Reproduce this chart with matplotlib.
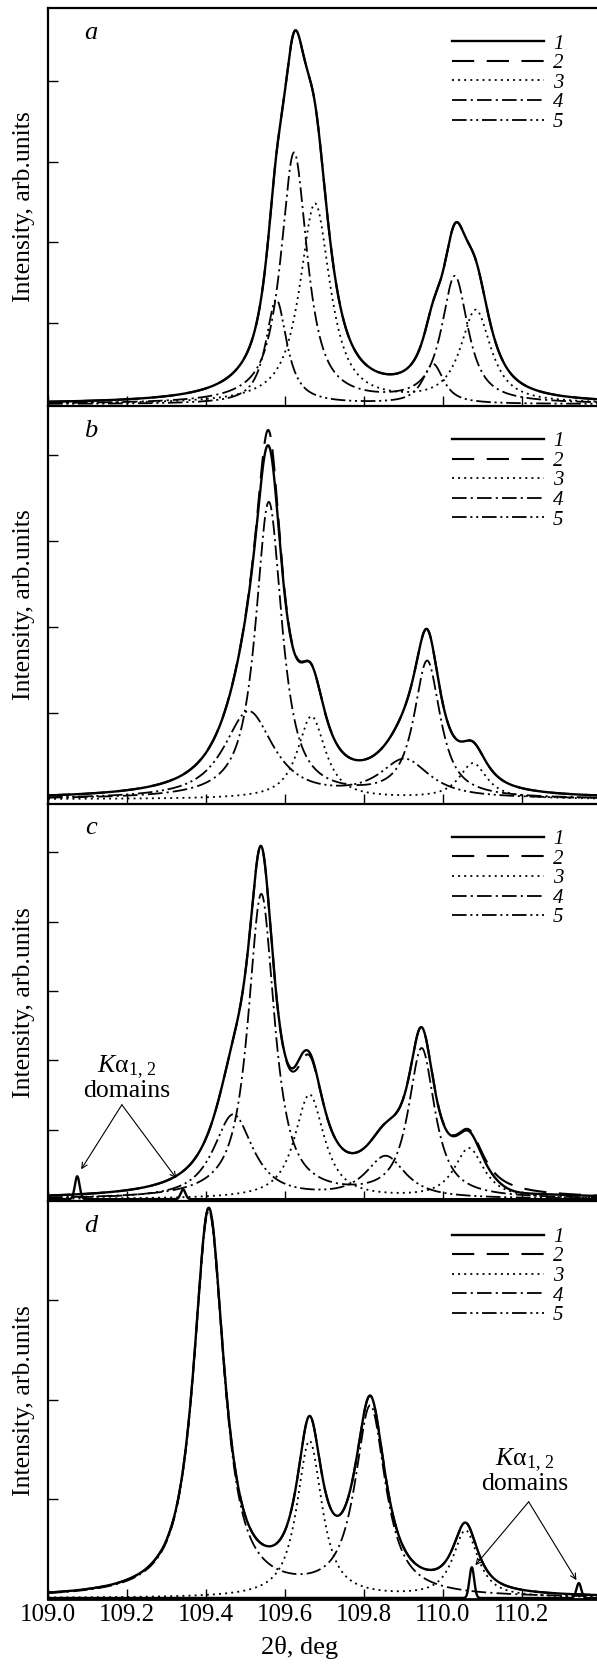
import numpy as np
import matplotlib
matplotlib.use("Agg")
import matplotlib.pyplot as plt

plt.rcParams['font.family'] = ['Liberation Serif', 'DejaVu Serif']
plt.rcParams['mathtext.fontset'] = 'custom'
plt.rcParams['mathtext.rm'] = 'Liberation Serif'
plt.rcParams['mathtext.it'] = 'Liberation Serif:italic'
plt.rcParams['lines.scale_dashes'] = False

# peak parameters: (centre 2theta, height, half width)
# panel a
a_comp3 = [(109.676, 2.47, 0.046), (110.083, 1.14, 0.046)]
a_comp4 = [(109.623, 3.10, 0.040), (110.030, 1.56, 0.040)]
a_comp5 = [(109.578, 1.29, 0.032), (109.975, 0.49, 0.032)]
a_corr = []
a_domains = []
# panel b
b_comp3 = [(109.667, 0.96, 0.042), (110.076, 0.41, 0.042)]
b_comp4 = [(109.559, 3.44, 0.040), (109.960, 1.58, 0.040)]
b_comp5 = [(109.508, 1.01, 0.075), (109.903, 0.44, 0.075)]
b_corr = [(109.559, -0.18, 0.020)]
b_domains = []
# panel c
c_comp3 = [(109.662, 1.50, 0.045), (110.066, 0.72, 0.045)]
c_comp4 = [(109.540, 4.38, 0.040), (109.946, 2.14, 0.040)]
c_comp5 = [(109.469, 1.21, 0.060), (109.855, 0.60, 0.060)]
c_corr = [(109.640, 0.10, 0.020), (110.170, -0.08, 0.070)]
c_domains = [(109.074, 0.33, 0.006), (109.342, 0.14, 0.006)]
# panel d
d_comp3 = [(109.662, 1.58, 0.038), (110.057, 0.67, 0.038)]
d_comp4 = [(109.407, 3.88, 0.046), (109.816, 1.90, 0.046)]
d_comp5 = []
d_corr = []
d_domains = [(110.073, 0.31, 0.006), (110.344, 0.15, 0.006)]

letters = ['a', 'b', 'c', 'd']
ytops = [4.9, 4.57, 5.7, 4.0]
ybottoms = [-0.02, -0.05, -0.03, -0.01]
yticks = [[1, 2, 3, 4], [1, 2, 3, 4], [1, 2, 3, 4, 5], [1, 2, 3]]
xticks = [109.0, 109.2, 109.4, 109.6, 109.8, 110.0, 110.2]
xtick_labels = ['109.0', '109.2', '109.4', '109.6', '109.8', '110.0', '110.2']

comps3 = [a_comp3, b_comp3, c_comp3, d_comp3]
comps4 = [a_comp4, b_comp4, c_comp4, d_comp4]
comps5 = [a_comp5, b_comp5, c_comp5, d_comp5]
corrs = [a_corr, b_corr, c_corr, d_corr]
domains = [a_domains, b_domains, c_domains, d_domains]

ETA = 0.9


def pvoigt(x, peaks):
    y = np.zeros_like(x)
    for c, h, w in peaks:
        u = (x - c) / w
        y += h * (ETA / (1 + u**2) + (1 - ETA) * np.exp(-np.log(2) * u**2))
    return y


def gauss(x, peaks):
    y = np.zeros_like(x)
    for c, h, s in peaks:
        y += h * np.exp(-0.5 * ((x - c) / s)**2)
    return y


x = np.linspace(109.0, 110.39, 3000)

styles = {
    1: dict(color='black', lw=1.7, ls='-'),
    2: dict(color='black', lw=1.5, ls=(0, (16, 9))),
    3: dict(color='black', lw=1.3, ls=(0, (1.4, 3.0))),
    4: dict(color='black', lw=1.3, ls=(0, (10.5, 3, 1.5, 3))),
    5: dict(color='black', lw=1.3, ls=(0, (10.5, 2.7, 1.5, 2.7, 1.5, 2.7))),
}

fig = plt.figure(figsize=(5.97, 16.70), dpi=100)
gs = fig.add_gridspec(4, 1, left=48 / 597, right=1.0,
                      top=1 - 8 / 1670, bottom=1 - 1599 / 1670, hspace=0)
axes = [fig.add_subplot(gs[i]) for i in range(4)]

for i, ax in enumerate(axes):
    y3 = pvoigt(x, comps3[i])
    y4 = pvoigt(x, comps4[i])
    y5 = pvoigt(x, comps5[i])
    fit = y3 + y4 + y5
    meas = fit + pvoigt(x, corrs[i])

    l1, = ax.plot(x, meas, **styles[1])
    l2, = ax.plot(x, fit, **styles[2])
    l3, = ax.plot(x, y3, **styles[3])
    l4, = ax.plot(x, y4, **styles[4])
    l5, = ax.plot(x, y5, **styles[5]) if comps5[i] else ax.plot([], [], **styles[5])
    if domains[i]:
        ax.plot(x, gauss(x, domains[i]), **styles[1])

    ax.set_xlim(109.0, 110.39)
    ax.set_ylim(ybottoms[i], ytops[i])
    ax.set_yticks(yticks[i])
    ax.set_yticklabels([])
    ax.set_xticks(xticks)
    ax.tick_params(direction='in', length=7, width=1.0, top=False, right=False)
    if i < 3:
        ax.set_xticklabels([])
    else:
        ax.set_xticklabels(xtick_labels, fontsize=18)
        ax.set_xlabel('2θ, deg', fontsize=19)
        ax.xaxis.set_label_coords((300 - 48) / 549, -0.092)
    for s in ['left', 'top']:
        ax.spines[s].set_linewidth(1.6)
    ax.spines['bottom'].set_linewidth(2.0)
    ax.spines['right'].set_visible(False)
    ax.set_ylabel('Intensity, arb.units', fontsize=18.5, labelpad=6)

    ax.text((91 - 48) / 549, 1 - 25 / 398, letters[i],
            transform=ax.transAxes, fontsize=19, style='italic',
            ha='center', va='center')

    ax.legend([l1, l2, l3, l4, l5], ['1', '2', '3', '4', '5'],
              loc='upper left', bbox_to_anchor=(404 / 549, 1 - 26 / 398),
              frameon=False, handlelength=4.4, handletextpad=0.45,
              labelspacing=0.0, borderpad=0, borderaxespad=0,
              prop={'size': 15, 'style': 'italic'})

# K-alpha domain annotations
axes[2].text(109.2, 1.75, '$K$α$_{1,\\,2}$\ndomains', fontsize=18.5,
             ha='center', va='center', linespacing=0.95)
for tx, ty in [(109.084, 0.43), (109.325, 0.30)]:
    axes[2].annotate('', xy=(tx, ty), xytext=(109.187, 1.36),
                     arrowprops=dict(arrowstyle='->', lw=0.8, color='black',
                                     shrinkA=0, shrinkB=0))
axes[3].text(110.206, 1.28, '$K$α$_{1,\\,2}$\ndomains', fontsize=18.5,
             ha='center', va='center', linespacing=0.95)
for tx, ty in [(110.082, 0.33), (110.338, 0.18)]:
    axes[3].annotate('', xy=(tx, ty), xytext=(110.217, 0.97),
                     arrowprops=dict(arrowstyle='->', lw=0.8, color='black',
                                     shrinkA=0, shrinkB=0))

fig.savefig('out.png', dpi=100)
